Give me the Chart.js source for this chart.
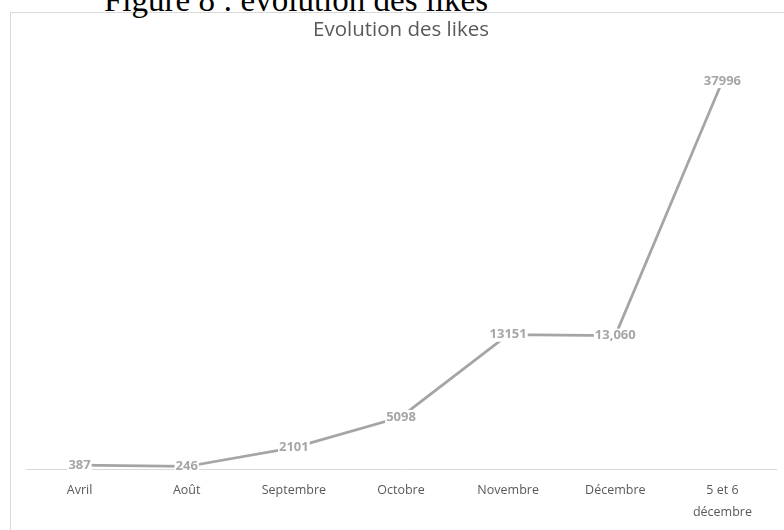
<!DOCTYPE html>
<html lang="fr">
<head>
<meta charset="utf-8">
<script src="https://cdn.jsdelivr.net/npm/chart.js@4.4.1/dist/chart.umd.min.js"></script>
<style>
  html, body { margin: 0; padding: 0; background: #ffffff; }
  body { width: 784px; height: 530px; position: relative; overflow: hidden; }
  #caption {
    position: absolute; left: 104px; top: -16px;
    font-family: "Liberation Serif", "DejaVu Serif", serif;
    font-size: 33px; line-height: 33px; color: #000; white-space: nowrap;
  }
  #frame {
    position: absolute; left: 10px; top: 12px; width: 790px; height: 540px;
    border: 1px solid #d9d9d9; box-sizing: border-box;
  }
  #wrap { position: absolute; left: 0; top: 0; width: 784px; height: 540px; }
</style>
</head>
<body>
<div id="frame"></div>
<div id="caption">Figure 8 : évolution des likes</div>
<div id="wrap"><canvas id="likes"></canvas></div>
<script>
// Months on the category axis (last one spans two lines)
const months = ['Avril', 'Août', 'Septembre', 'Octobre', 'Novembre', 'Décembre', ['5 et 6', 'décembre']];
// Number of likes per period
const likes = [387, 246, 2101, 5098, 13151, 13060, 37996];
// Periods whose label is printed with a thousands separator
const groupedLabel = [false, false, false, false, false, true, false];

const GREY_LINE = '#a5a5a5';
const GREY_TEXT = '#595959';

// Draws each value centred on its point, on a white patch that hides the line
const pointValues = {
  id: 'pointValues',
  afterDatasetsDraw(chart) {
    const ctx = chart.ctx;
    const meta = chart.getDatasetMeta(0);
    ctx.save();
    ctx.font = 'bold 13px "Open Sans", sans-serif';
    ctx.textAlign = 'center';
    ctx.textBaseline = 'middle';
    meta.data.forEach((pt, i) => {
      const v = chart.data.datasets[0].data[i];
      const txt = groupedLabel[i] ? v.toLocaleString('en-US') : String(v);
      const w = ctx.measureText(txt).width;
      ctx.fillStyle = '#ffffff';
      ctx.fillRect(pt.x - w / 2 - 1, pt.y - 7, w + 2, 14);
      ctx.fillStyle = '#a6a6a6';
      ctx.fillText(txt, pt.x, pt.y);
    });
    ctx.restore();
  }
};

new Chart(document.getElementById('likes'), {
  type: 'line',
  data: {
    labels: months,
    datasets: [{
      data: likes,
      borderColor: GREY_LINE,
      borderWidth: 2.75,
      pointRadius: 0,
      tension: 0,
      fill: false
    }]
  },
  options: {
    responsive: true,
    maintainAspectRatio: false,
    animation: false,
    events: [],
    layout: { padding: { left: 26, right: 8, top: 0, bottom: 7 } },
    plugins: {
      legend: { display: false },
      tooltip: { enabled: false },
      title: {
        display: true,
        text: 'Evolution des likes',
        color: GREY_TEXT,
        font: { family: '"Open Sans", sans-serif', size: 20.5, weight: 'normal' },
        padding: { top: 18, bottom: 18 }
      }
    },
    scales: {
      x: {
        offset: true,
        grid: { display: false, drawTicks: false },
        border: { display: true, color: '#d9d9d9', width: 1 },
        ticks: {
          color: GREY_TEXT,
          padding: 10,
          maxRotation: 0,
          autoSkip: false,
          font: { family: '"Open Sans", sans-serif', size: 12.5, lineHeight: 1.76 }
        }
      },
      y: {
        display: false,
        min: 0,
        max: 40000
      }
    }
  },
  plugins: [pointValues]
});
</script>
</body>
</html>
